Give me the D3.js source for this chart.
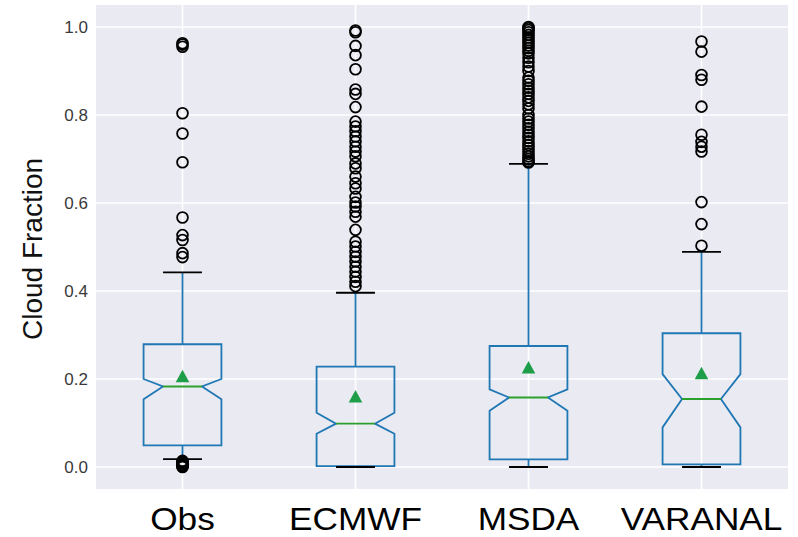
<!DOCTYPE html>
<html>
<head>
<meta charset="utf-8">
<script src="https://cdn.jsdelivr.net/npm/d3@7"></script>
<style>
  body { margin: 0; background: #fff; }
  svg { display: block; }
</style>
</head>
<body>
<svg></svg>
<script>
// box stats
let categories = ["Obs", "ECMWF", "MSDA", "VARANAL"];
let q1 = [0.049, 0.002, 0.0174, 0.006];
let q3 = [0.279, 0.228, 0.275, 0.304];
let medians = [0.183, 0.0985, 0.158, 0.1545];
let notchLo = [0.154, 0.0757, 0.128, 0.09];
let notchHi = [0.2, 0.1235, 0.1765, 0.211];
let whiskerLo = [0.018, 0.0, 0.0, 0.0];
let whiskerHi = [0.4425, 0.396, 0.689, 0.489];
let means = [0.206, 0.16, 0.226, 0.213];

let fliersObs = [0.963, 0.96, 0.955, 0.804, 0.758, 0.6925, 0.567, 0.527, 0.516, 0.486, 0.477,
  0.014, 0.012, 0.01, 0.008, 0.005, 0.003, 0.001, 0.0];
let fliersECMWF = [0.992, 0.988, 0.957, 0.936, 0.904, 0.858, 0.848, 0.818, 0.785, 0.774, 0.763,
  0.751, 0.74, 0.728, 0.717, 0.706, 0.69, 0.679, 0.66, 0.645, 0.633, 0.614, 0.601, 0.592,
  0.58, 0.569, 0.539, 0.512, 0.501, 0.489, 0.478, 0.467, 0.455, 0.444, 0.432, 0.421, 0.411];
let fliersMSDA = [1.0, 0.997, 0.993, 0.988, 0.982, 0.976, 0.97, 0.964, 0.958, 0.952, 0.946,
  0.94, 0.93, 0.92, 0.91, 0.9, 0.885, 0.878, 0.87, 0.862, 0.855, 0.848, 0.84, 0.832, 0.824,
  0.815, 0.8, 0.792, 0.785, 0.778, 0.77, 0.762, 0.755, 0.748, 0.74, 0.732, 0.725, 0.718,
  0.712, 0.706, 0.7, 0.695, 0.692];
let fliersVARANAL = [0.967, 0.944, 0.891, 0.88, 0.819, 0.755, 0.739, 0.728, 0.717, 0.602, 0.552, 0.503];
let fliers = [fliersObs, fliersECMWF, fliersMSDA, fliersVARANAL];

let yTicks = [0.0, 0.2, 0.4, 0.6, 0.8, 1.0];

let W = 798, H = 537;
let m = { left: 96, right: 10, top: 5, bottom: 48 };

let svg = d3.select("svg").attr("width", W).attr("height", H);

let x = d3.scalePoint().domain(categories).range([m.left, W - m.right]).padding(0.5);
let y = d3.scaleLinear().domain([-0.05, 1.05]).range([H - m.bottom, m.top]);

let boxW = x.step() * 0.45;
let capW = boxW / 2;

let blue = "#1f77b4", green = "#2ca02c";

// background + grid
svg.append("rect")
  .attr("x", m.left).attr("y", m.top)
  .attr("width", W - m.left - m.right).attr("height", H - m.top - m.bottom)
  .attr("fill", "#eaeaf2");

let grid = svg.append("g");
grid.selectAll(".hg").data(yTicks).join("line")
  .attr("x1", m.left).attr("x2", W - m.right)
  .attr("y1", d => y(d)).attr("y2", d => y(d))
  .attr("stroke", "#fff").attr("stroke-width", 1.6);
grid.selectAll(".vg").data(categories).join("line")
  .attr("x1", d => x(d)).attr("x2", d => x(d))
  .attr("y1", m.top).attr("y2", H - m.bottom)
  .attr("stroke", "#fff").attr("stroke-width", 1.6);

// y axis
let yAxis = svg.append("g")
  .attr("transform", `translate(${m.left},0)`)
  .call(d3.axisLeft(y).tickValues(yTicks).tickFormat(d3.format(".1f")).tickSize(0).tickPadding(8));
yAxis.select(".domain").remove();
yAxis.selectAll("text")
  .attr("font-family", "'Liberation Sans', Arial, sans-serif")
  .attr("font-size", 17)
  .attr("fill", "#3a3a3a");

svg.append("text")
  .attr("transform", `translate(42,${(m.top + H - m.bottom) / 2 + 2}) rotate(-90)`)
  .attr("text-anchor", "middle")
  .attr("font-family", "'Liberation Sans', Arial, sans-serif")
  .attr("font-size", 28)
  .attr("fill", "#111")
  .text("Cloud Fraction");

// x labels
svg.append("g").selectAll("text").data(categories).join("text")
  .attr("transform", d => `translate(${x(d)},530) scale(1.1,1)`)
  .attr("text-anchor", "middle")
  .attr("font-family", "'Liberation Sans', Arial, sans-serif")
  .attr("font-size", 32)
  .attr("fill", "#000")
  .text(d => d);

// boxes
let idx = d3.range(categories.length);
let boxes = svg.append("g").selectAll("g").data(idx).join("g");

boxes.append("line")
  .attr("x1", i => x(categories[i])).attr("x2", i => x(categories[i]))
  .attr("y1", i => y(q3[i])).attr("y2", i => y(whiskerHi[i]))
  .attr("stroke", blue).attr("stroke-width", 1.8);
boxes.append("line")
  .attr("x1", i => x(categories[i])).attr("x2", i => x(categories[i]))
  .attr("y1", i => y(q1[i])).attr("y2", i => y(whiskerLo[i]))
  .attr("stroke", blue).attr("stroke-width", 1.8);

boxes.append("path")
  .attr("d", i => {
    let c = x(categories[i]);
    let l = c - boxW / 2, r = c + boxW / 2;
    let cl = c - capW / 2, cr = c + capW / 2;
    let p = d3.path();
    p.moveTo(l, y(q1[i]));
    p.lineTo(r, y(q1[i]));
    p.lineTo(r, y(notchLo[i]));
    p.lineTo(cr, y(medians[i]));
    p.lineTo(r, y(notchHi[i]));
    p.lineTo(r, y(q3[i]));
    p.lineTo(l, y(q3[i]));
    p.lineTo(l, y(notchHi[i]));
    p.lineTo(cl, y(medians[i]));
    p.lineTo(l, y(notchLo[i]));
    p.closePath();
    return p.toString();
  })
  .attr("fill", "none").attr("stroke", blue).attr("stroke-width", 1.8)
  .attr("stroke-linejoin", "miter");

boxes.append("line")
  .attr("x1", i => x(categories[i]) - capW / 2).attr("x2", i => x(categories[i]) + capW / 2)
  .attr("y1", i => y(medians[i])).attr("y2", i => y(medians[i]))
  .attr("stroke", green).attr("stroke-width", 1.8);

// caps
[whiskerHi, whiskerLo].forEach(arr => {
  boxes.append("line")
    .attr("x1", i => x(categories[i]) - capW / 2).attr("x2", i => x(categories[i]) + capW / 2)
    .attr("y1", i => y(arr[i])).attr("y2", i => y(arr[i]))
    .attr("stroke", "#000").attr("stroke-width", 1.8);
});

// fliers
boxes.each(function (i) {
  d3.select(this).selectAll("circle").data(fliers[i]).join("circle")
    .attr("cx", x(categories[i]))
    .attr("cy", d => y(d))
    .attr("r", 5.4)
    .attr("fill", "none")
    .attr("stroke", "#000")
    .attr("stroke-width", 1.8);
});

// mean markers
boxes.append("path")
  .attr("transform", i => `translate(${x(categories[i])},${y(means[i])})`)
  .attr("d", "M0,-6.5L6.8,6L-6.8,6Z")
  .attr("fill", "#1f9e4a");
</script>
</body>
</html>
